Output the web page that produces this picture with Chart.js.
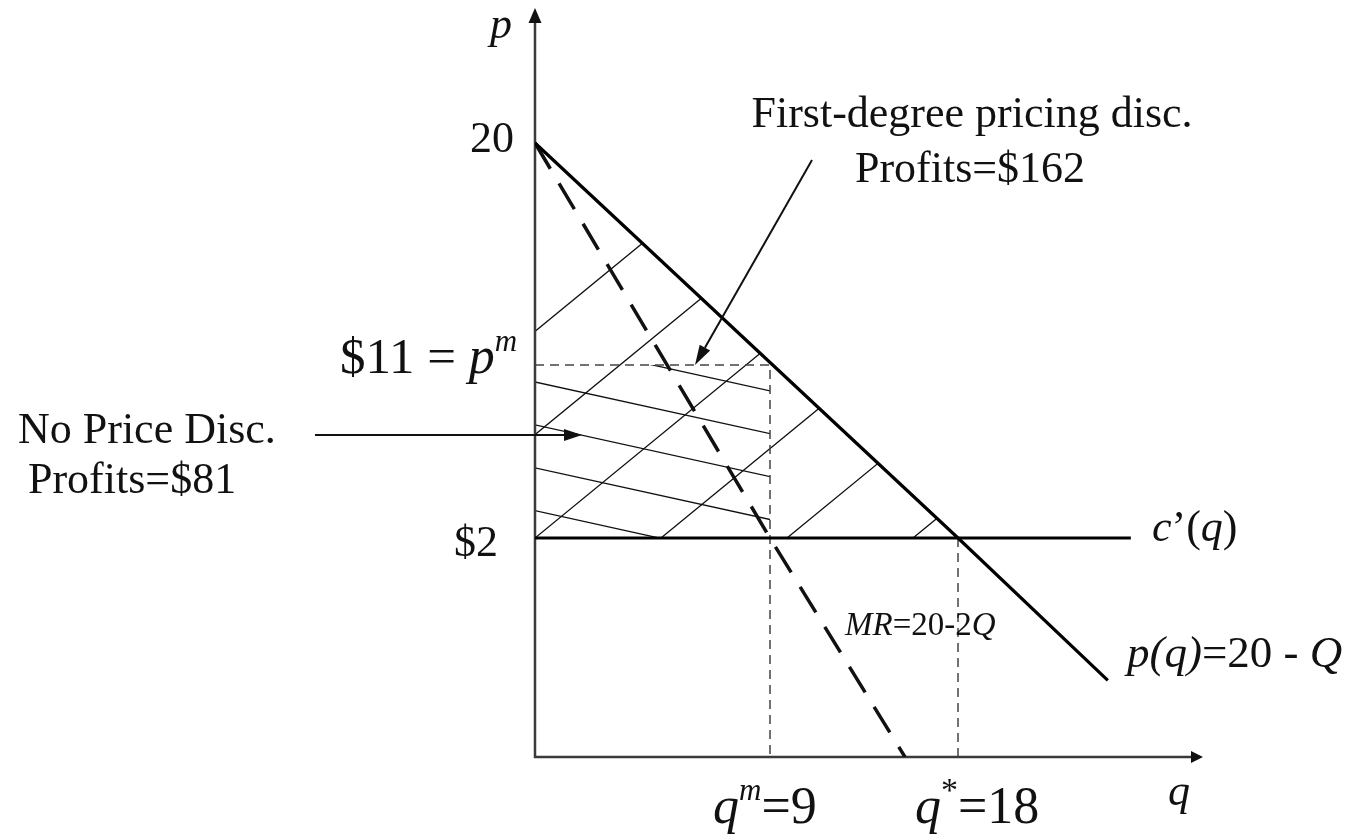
<!DOCTYPE html>
<html>
<head>
<meta charset="utf-8">
<title>Price discrimination</title>
<script src="https://cdn.jsdelivr.net/npm/chart.js@4.4.1/dist/chart.umd.min.js"></script>
<style>
  html, body { margin: 0; padding: 0; background: #fff; }
  #wrap { width: 1354px; height: 837px; }
</style>
</head>
<body>
<div id="wrap"><canvas id="myChart" width="1354" height="837"></canvas></div>
<script>
// Demand p(q) = 20 - Q
var demandQ = [0, 18, 19.3];
var demandP = [20, 2, 0.7];
// Marginal revenue MR = 20 - 2Q
var mrQ = [0, 9, 10];
var mrP = [20, 2, 0];
// Constant marginal cost c'(q) = 2
var mcQ = [0, 19.5];
var mcP = [2, 2];
// Key points
var qMonopoly = 9;
var pMonopoly = 11;
var qEfficient = 18;
var marginalCost = 2;

// The sketch is not drawn to scale: each labelled value sits at a
// fixed fraction of its axis and the scale interpolates between them.
var axisKnots = {
    x: [[0, 0], [9, 0.3534], [10, 0.5564], [18, 0.6361], [20.1, 1]],
    y: [[0, 0], [2, 0.2928], [11, 0.5241], [20, 0.8209], [25.4, 1]]
};

class SketchScale extends Chart.LinearScale {
    getPixelForValue(value) {
        var k = axisKnots[this.id];
        var i = 1;
        while (i < k.length - 1 && value > k[i][0]) i++;
        var a = k[i - 1], b = k[i];
        var d = a[1] + (value - a[0]) * (b[1] - a[1]) / (b[0] - a[0]);
        return this.getPixelForDecimal(d);
    }
    getValueForPixel(pixel) {
        var k = axisKnots[this.id];
        var d = this.getDecimalForPixel(pixel);
        var i = 1;
        while (i < k.length - 1 && d > k[i][1]) i++;
        var a = k[i - 1], b = k[i];
        return a[0] + (d - a[1]) * (b[0] - a[0]) / (b[1] - a[1]);
    }
}
SketchScale.id = 'sketch';
SketchScale.defaults = Chart.LinearScale.defaults;
Chart.register(SketchScale);

function pairs(xs, ys) {
    return xs.map(function (x, i) { return { x: x, y: ys[i] }; });
}

var SERIF = '"Liberation Serif", "Times New Roman", serif';

// draw a row of text pieces with their own fonts (italics, superscripts)
function drawRuns(ctx, x, y, runs, align) {
    var total = 0;
    runs.forEach(function (r) {
        ctx.font = r.font;
        r.w = ctx.measureText(r.text).width;
        total += r.w;
    });
    var cx = align === 'right' ? x - total : align === 'center' ? x - total / 2 : x;
    runs.forEach(function (r) {
        ctx.font = r.font;
        ctx.fillText(r.text, cx, y + (r.dy || 0));
        cx += r.w;
    });
}

function arrow(ctx, x1, y1, x2, y2, len, half) {
    var ang = Math.atan2(y2 - y1, x2 - x1);
    var bx = x2 - len * Math.cos(ang), by = y2 - len * Math.sin(ang);
    ctx.beginPath();
    ctx.moveTo(x1, y1);
    ctx.lineTo(bx, by);
    ctx.stroke();
    ctx.beginPath();
    ctx.moveTo(x2, y2);
    ctx.lineTo(bx + half * Math.sin(ang), by - half * Math.cos(ang));
    ctx.lineTo(bx - half * Math.sin(ang), by + half * Math.cos(ang));
    ctx.closePath();
    ctx.fill();
}

// axes with arrow heads, and the hatching of the profit areas
var backdrop = {
    id: 'backdrop',
    beforeDatasetsDraw: function (chart) {
        var ctx = chart.ctx;
        var xs = chart.scales.x, ys = chart.scales.y;
        var area = chart.chartArea;
        var ox = xs.getPixelForValue(0), oy = ys.getPixelForValue(0);

        chart.data.datasets.forEach(function (ds, i) {
            if (!ds.hatch) return;
            var h = ds.hatch;
            var pts = chart.getDatasetMeta(i).data;
            var yBase = ys.getPixelForValue(h.base);
            ctx.save();
            ctx.beginPath();
            ctx.moveTo(pts[0].x, yBase);
            pts.forEach(function (pt) { ctx.lineTo(pt.x, pt.y); });
            ctx.lineTo(pts[pts.length - 1].x, yBase);
            ctx.closePath();
            ctx.clip();
            ctx.strokeStyle = '#111';
            ctx.lineWidth = 1.3;
            ctx.beginPath();
            // each stroke crosses the base line at x0 + k*step
            var x0 = pts[0].x + h.offset;
            for (var k = h.lines[0]; k <= h.lines[1]; k++) {
                var bx = x0 + k * h.step;
                var xa = area.left - 400, xb = area.right + 400;
                ctx.moveTo(xa, yBase + h.slope * (xa - bx));
                ctx.lineTo(xb, yBase + h.slope * (xb - bx));
            }
            ctx.stroke();
            ctx.restore();
        });

        ctx.save();
        ctx.strokeStyle = '#3a3a3a';
        ctx.fillStyle = '#111';
        ctx.lineWidth = 2.5;
        arrow(ctx, ox, oy + 1, ox, area.top - 1, 15, 6.5);
        arrow(ctx, ox - 1, oy, area.right + 3, oy, 12, 6);
        ctx.restore();
    },
    afterDraw: function (chart) {
        var ctx = chart.ctx;
        var it = 'italic ';
        ctx.save();
        ctx.fillStyle = '#111';
        ctx.textBaseline = 'alphabetic';

        // axis names and price labels
        drawRuns(ctx, 490, 38, [{ text: 'p', font: it + '44px ' + SERIF }], 'left');
        drawRuns(ctx, 1168, 805, [{ text: 'q', font: it + '44px ' + SERIF }], 'left');
        drawRuns(ctx, 514, 152, [{ text: '20', font: '44px ' + SERIF }], 'right');
        drawRuns(ctx, 498, 556, [{ text: '$2', font: '44px ' + SERIF }], 'right');
        drawRuns(ctx, 340, 373, [
            { text: '$11 = ', font: '51px ' + SERIF },
            { text: 'p', font: it + '52px ' + SERIF },
            { text: 'm', font: it + '31px ' + SERIF, dy: -22 }
        ], 'left');

        // quantities under the axis
        drawRuns(ctx, 713, 823, [
            { text: 'q', font: it + '52px ' + SERIF },
            { text: 'm', font: it + '31px ' + SERIF, dy: -23 },
            { text: '=9', font: '52px ' + SERIF }
        ], 'left');
        drawRuns(ctx, 915, 823, [
            { text: 'q', font: it + '52px ' + SERIF },
            { text: '*', font: '34px ' + SERIF, dy: -22 },
            { text: '=18', font: '52px ' + SERIF }
        ], 'left');

        // curve names
        drawRuns(ctx, 1152, 541, [
            { text: 'c', font: it + '44px ' + SERIF },
            { text: '\u2019(', font: '44px ' + SERIF },
            { text: 'q', font: it + '44px ' + SERIF },
            { text: ')', font: '44px ' + SERIF }
        ], 'left');
        drawRuns(ctx, 1127, 667, [
            { text: 'p(q)', font: it + '45px ' + SERIF },
            { text: '=20 - ', font: '45px ' + SERIF },
            { text: 'Q', font: it + '45px ' + SERIF }
        ], 'left');
        drawRuns(ctx, 845, 635, [
            { text: 'MR', font: it + '33px ' + SERIF },
            { text: '=20-2', font: '33px ' + SERIF },
            { text: 'Q', font: it + '33px ' + SERIF }
        ], 'left');

        // profit notes
        var f = '44px ' + SERIF;
        drawRuns(ctx, 972, 127, [{ text: 'First-degree pricing disc.', font: f }], 'center');
        drawRuns(ctx, 970, 182, [{ text: 'Profits=$162', font: f }], 'center');
        drawRuns(ctx, 18, 443, [{ text: 'No Price Disc.', font: f }], 'left');
        drawRuns(ctx, 28, 493, [{ text: 'Profits=$81', font: f }], 'left');

        ctx.strokeStyle = '#111';
        ctx.fillStyle = '#111';
        ctx.lineWidth = 2;
        arrow(ctx, 812, 160, 695, 365, 20, 6);
        arrow(ctx, 315, 435, 582, 435, 18, 6);
        ctx.restore();
    }
};

var ctx = document.getElementById('myChart').getContext('2d');
var myChart = new Chart(ctx, {
    type: 'line',
    data: {
        datasets: [{
            label: 'p(q)=20 - Q',
            data: pairs(demandQ, demandP),
            borderColor: '#000',
            borderWidth: 3.2
        }, {
            label: 'MR=20-2Q',
            data: pairs(mrQ, mrP),
            borderColor: '#111',
            borderWidth: 3.5,
            borderDash: [30, 17]
        }, {
            label: "c'(q)",
            data: pairs(mcQ, mcP),
            borderColor: '#000',
            borderWidth: 3.2
        }, {
            label: 'p^m',
            data: [{ x: 0, y: pMonopoly }, { x: qMonopoly, y: pMonopoly }, { x: qMonopoly, y: 0 }],
            borderColor: '#444',
            borderWidth: 1.5,
            borderDash: [9, 6]
        }, {
            label: 'q*',
            data: [{ x: qEfficient, y: marginalCost }, { x: qEfficient, y: 0 }],
            borderColor: '#444',
            borderWidth: 1.5,
            borderDash: [9, 6]
        }, {
            label: 'First-degree profits',
            data: pairs(demandQ.slice(0, 2), demandP.slice(0, 2)),
            showLine: false,
            hatch: { base: marginalCost, slope: -0.82, step: 126, offset: 0, lines: [-2, 3] }
        }, {
            label: 'Monopoly profits',
            data: [{ x: 0, y: pMonopoly }, { x: qMonopoly, y: pMonopoly }],
            showLine: false,
            hatch: { base: marginalCost, slope: 0.22, step: 195, offset: 124, lines: [0, 4] }
        }]
    },
    options: {
        responsive: false,
        animation: false,
        events: [],
        layout: { padding: { left: 535, right: 154, top: 9, bottom: 80 } },
        elements: { point: { radius: 0 }, line: { tension: 0, borderCapStyle: 'butt' } },
        scales: {
            x: { type: 'sketch', min: 0, max: 20.1, display: false },
            y: { type: 'sketch', min: 0, max: 25.4, display: false }
        },
        plugins: { legend: { display: false }, tooltip: { enabled: false } }
    },
    plugins: [backdrop]
});
</script>
</body>
</html>
